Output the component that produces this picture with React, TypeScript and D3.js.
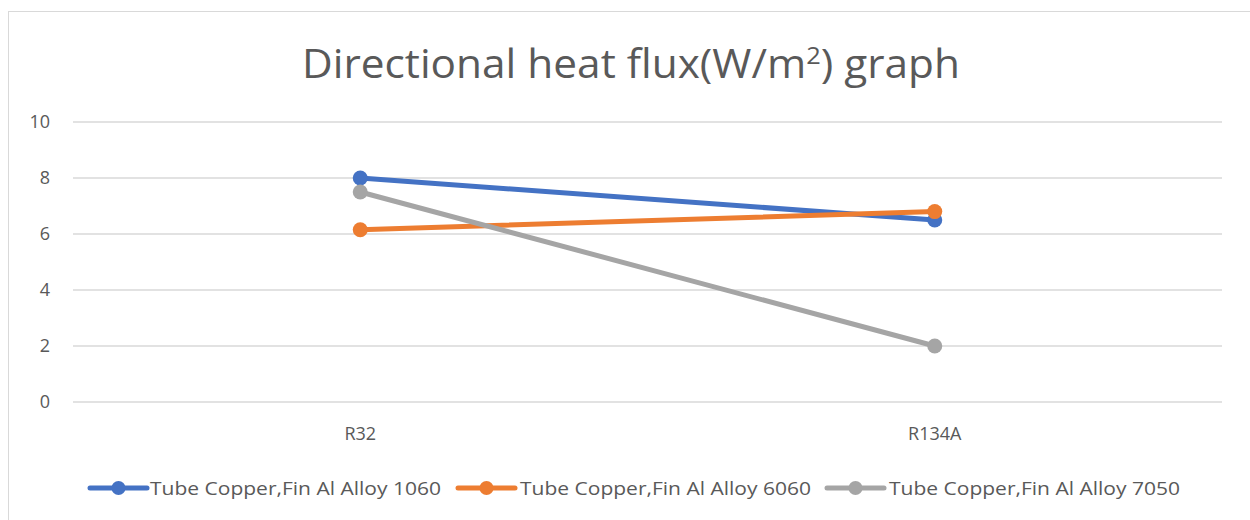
import React from "react";
import * as d3 from "d3";

const categories = ["R32", "R134A"];
const seriesNames = [
  "Tube Copper,Fin Al Alloy 1060",
  "Tube Copper,Fin Al Alloy 6060",
  "Tube Copper,Fin Al Alloy 7050",
];
const alloy1060 = [8, 6.5];
const alloy6060 = [6.15, 6.8];
const alloy7050 = [7.5, 2];
const yTicks = [0, 2, 4, 6, 8, 10];
const colors = ["#4472C4", "#ED7D31", "#A5A5A5"];

const W = 1250;
const H = 520;
const FONT = "'Open Sans', 'Noto Sans', sans-serif";
const TXT = "#595959";

export default function App() {
  const x = d3.scaleBand<string>().domain(categories).range([73, 1222]);
  const y = d3.scaleLinear().domain([0, 10]).range([402, 122]);
  const series = [alloy1060, alloy6060, alloy7050];
  const line = d3
    .line<number>()
    .x((_, i) => (x(categories[i]) as number) + x.bandwidth() / 2)
    .y((d) => y(d));

  const legendItems = [
    { lx: 90, tx: 150, tw: 291 },
    { lx: 458, tx: 520, tw: 291 },
    { lx: 827, tx: 889, tw: 291 },
  ];

  return (
    <svg
      width={W}
      height={H}
      style={{ position: "absolute", left: 0, top: 0, background: "#fff" }}
      fontFamily={FONT}
    >
      <rect x={8.5} y={11.5} width={1260} height={520} fill="#fff" stroke="#D9D9D9" />
      <text
        x={631}
        y={78}
        textAnchor="middle"
        fontSize={40}
        fill={TXT}
        textLength={658}
        lengthAdjust="spacingAndGlyphs"
      >
        Directional heat flux(W/m
        <tspan dy={-14} fontSize={24}>2</tspan>
        <tspan dy={14}>) graph</tspan>
      </text>
      {yTicks.map((t) => (
        <g key={t}>
          <line x1={73} x2={1222} y1={y(t)} y2={y(t)} stroke="#D9D9D9" strokeWidth={1.3} />
          <text x={50} y={y(t)} dy="0.35em" textAnchor="end" fontSize={18} fill={TXT}>
            {t}
          </text>
        </g>
      ))}
      {categories.map((c) => (
        <text
          key={c}
          x={(x(c) as number) + x.bandwidth() / 2}
          y={440}
          textAnchor="middle"
          fontSize={18}
          fill={TXT}
        >
          {c}
        </text>
      ))}
      {series.map((s, k) => (
        <g key={k}>
          <path d={line(s) as string} fill="none" stroke={colors[k]} strokeWidth={5} strokeLinecap="round" />
          {s.map((v, i) => (
            <circle
              key={i}
              cx={(x(categories[i]) as number) + x.bandwidth() / 2}
              cy={y(v)}
              r={7.5}
              fill={colors[k]}
            />
          ))}
        </g>
      ))}
      {legendItems.map((it, k) => (
        <g key={k}>
          <line x1={it.lx} x2={it.lx + 57} y1={488} y2={488} stroke={colors[k]} strokeWidth={5} strokeLinecap="round" />
          <circle cx={it.lx + 28.5} cy={488} r={7} fill={colors[k]} />
          <text
            x={it.tx}
            y={488}
            dy="0.35em"
            fontSize={19}
            fill={TXT}
            textLength={it.tw}
            lengthAdjust="spacingAndGlyphs"
          >
            {seriesNames[k]}
          </text>
        </g>
      ))}
    </svg>
  );
}
